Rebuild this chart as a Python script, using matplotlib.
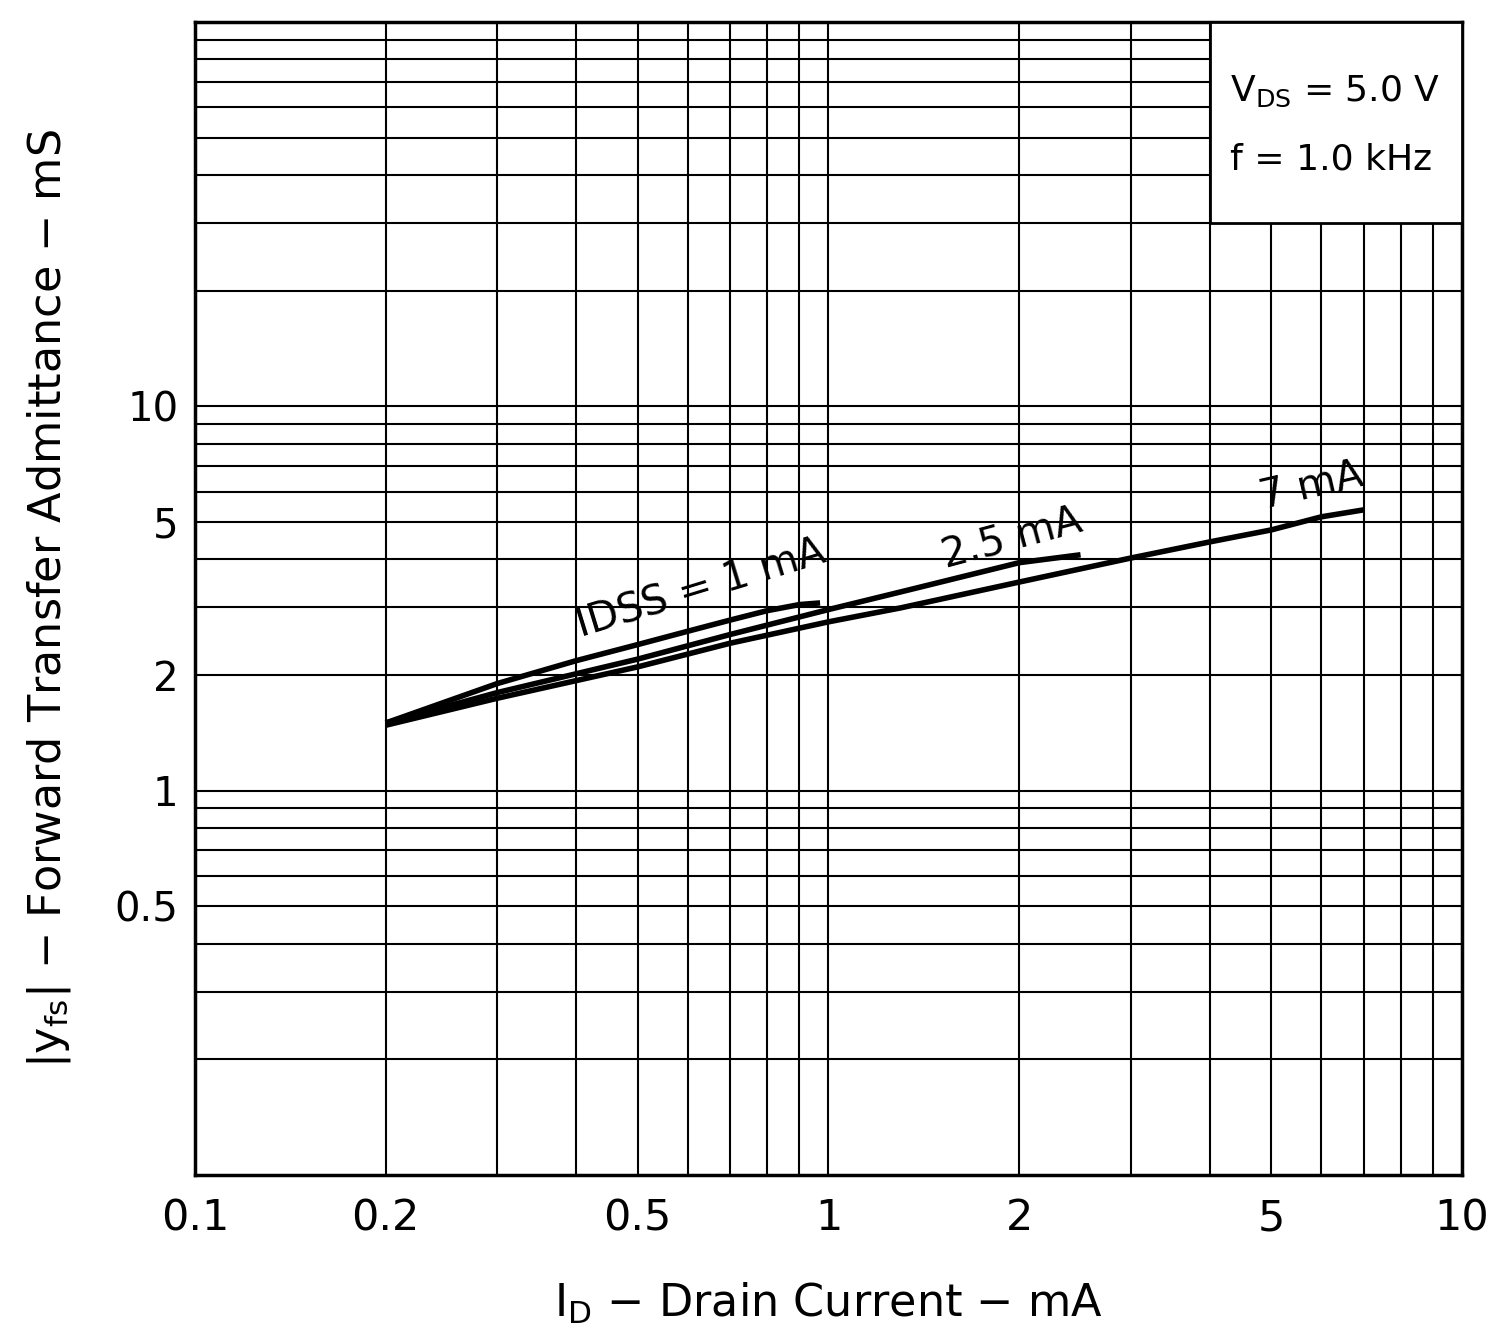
import matplotlib
matplotlib.use("Agg")
from matplotlib import pyplot as plt
from matplotlib import font_manager
from matplotlib.patches import Rectangle

names = {f.name for f in font_manager.fontManager.ttflist}
FONT = 'Liberation Sans Narrow' if 'Liberation Sans Narrow' in names else 'DejaVu Sans'
plt.rcParams['font.family'] = [FONT, 'DejaVu Sans']
plt.rcParams['mathtext.fontset'] = 'custom'
plt.rcParams['mathtext.rm'] = FONT
plt.rcParams['mathtext.it'] = FONT + ':italic'

# I_D (mA) vs |yfs| (mS) for three IDSS values
id_1 = [0.2, 0.3, 0.4, 0.5, 0.6, 0.7, 0.8, 0.9, 0.97]
yfs_1 = [1.5, 1.9, 2.18, 2.4, 2.6, 2.78, 2.94, 3.05, 3.08]

id_25 = [0.2, 0.3, 0.5, 0.7, 1.0, 1.3, 2.0, 2.5]
yfs_25 = [1.5, 1.8, 2.2, 2.55, 2.96, 3.29, 3.92, 4.11]

id_7 = [0.2, 0.3, 0.5, 0.7, 1.0, 1.3, 2.0, 3.0, 4.0, 5.0, 6.0, 7.0]
yfs_7 = [1.48, 1.74, 2.1, 2.42, 2.75, 2.99, 3.49, 4.03, 4.44, 4.77, 5.16, 5.38]

x_ticks = [0.1, 0.2, 0.5, 1, 2, 5, 10]
x_labels = ['0.1', '0.2', '0.5', '1', '2', '5', '10']
y_ticks = [0.5, 1, 2, 5, 10]
y_labels = ['0.5', '1', '2', '5', '10']

fig = plt.figure(figsize=(14.95, 13.42), dpi=100)
ax = fig.add_axes([0.1304, 0.1244, 0.8475, 0.8592])
ax.set_xscale('log')
ax.set_yscale('log')
ax.set_xlim(0.1, 10)
ax.set_ylim(0.1, 100)

ax.set_xticks(x_ticks, x_labels, fontsize=31)
ax.set_yticks(y_ticks, y_labels, fontsize=29)
x_minor = [m * d for d in (0.1, 1) for m in range(2, 10)]
y_minor = [m * d for d in (0.1, 1, 10) for m in range(2, 10)] + [1, 10]
ax.set_xticks(x_minor, minor=True)
ax.set_yticks(y_minor, minor=True)
ax.tick_params(which='both', length=0)
ax.tick_params(axis='x', pad=16)
ax.tick_params(axis='y', pad=12)
ax.xaxis.set_minor_formatter(plt.NullFormatter())
ax.yaxis.set_minor_formatter(plt.NullFormatter())
ax.grid(which='both', color='black', lw=1.5)
for s in ax.spines.values():
    s.set_linewidth(2.5)

for x, y in [(id_1, yfs_1), (id_25, yfs_25), (id_7, yfs_7)]:
    ax.plot(x, y, color='black', lw=4, solid_capstyle='butt', zorder=3)

ax.text(0.63, 3.35, 'IDSS = 1 mA', fontsize=29, rotation=17, ha='center', va='center')
ax.text(1.95, 4.5, '2.5 mA', fontsize=29, rotation=15, ha='center', va='center')
ax.text(5.8, 6.2, '7 mA', fontsize=29, rotation=13, ha='center', va='center')

ax.add_patch(Rectangle((4, 30), 6, 70, facecolor='white', edgecolor='black', lw=2, zorder=4))
ax.text(4.3, 66, r'V$_\mathrm{DS}$ = 5.0 V', fontsize=26, ha='left', va='center', zorder=5)
ax.text(4.3, 44, 'f = 1.0 kHz', fontsize=26, ha='left', va='center', zorder=5)

ax.set_xlabel(r'I$_\mathrm{D}$ − Drain Current − mA', fontsize=32, labelpad=30)
ax.set_ylabel(r'|y$_\mathrm{fs}$| − Forward Transfer Admittance − mS', fontsize=32, labelpad=30)

fig.savefig('out.png', dpi=100)
